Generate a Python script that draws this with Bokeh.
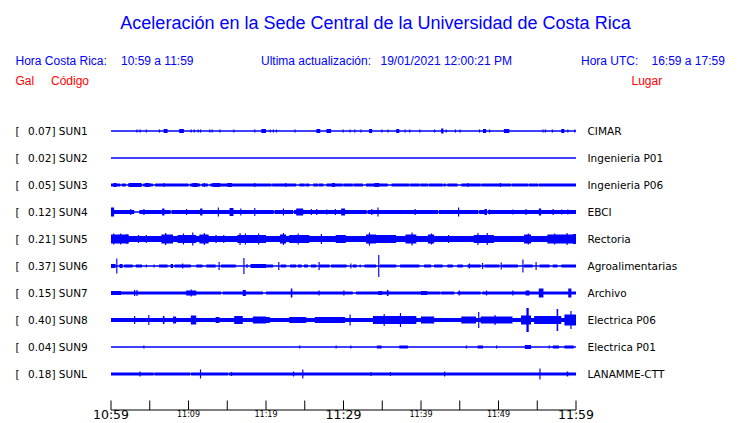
from bokeh.plotting import figure
from bokeh.models import Range1d, ColumnDataSource
from bokeh.core.properties import value
from bokeh.embed import file_html
from bokeh.resources import INLINE

# ---------------- data ----------------
title_text = "Aceleración en la Sede Central de la Universidad de Costa Rica"
hora_cr_label = "Hora Costa Rica:"
hora_cr_value = "10:59 a 11:59"
update_label = "Ultima actualización:"
update_value = "19/01/2021 12:00:21 PM"
hora_utc_label = "Hora UTC:"
hora_utc_value = "16:59 a 17:59"

stations = ["SUN1", "SUN2", "SUN3", "SUN4", "SUN5", "SUN6", "SUN7", "SUN8", "SUN9", "SUNL"]
peak_gal = [0.07, 0.02, 0.05, 0.12, 0.21, 0.37, 0.15, 0.40, 0.04, 0.18]
places = ["CIMAR", "Ingenieria P01", "Ingenieria P06", "EBCI", "Rectoria",
          "Agroalimentarias", "Archivo", "Electrica P06", "Electrica P01", "LANAMME-CTT"]

# background noise half-amplitude of each trace (px-scale envelope)
base_env = [0.5, 0.5, 1.5, 2.0, 3.0, 0.5, 1.5, 2.0, 0.5, 1.5]

# quiet intervals (minutes after 10:59) where the noise band thins to a line
quiet_SUN3 = [(1.2, 1.4), (1.9, 2.2), (4.0, 4.15), (5.4, 5.7), (10.0, 10.2), (11.5, 11.7),
              (12.5, 12.8), (20.7, 20.8), (23.9, 24.3), (25.0, 25.1), (25.6, 26.1), (26.7, 26.8),
              (27.4, 27.8), (29.9, 30.0), (31.2, 31.3), (32.5, 32.9), (35.7, 36.2), (38.5, 38.6),
              (39.8, 39.9), (40.9, 41.0), (42.8, 42.9), (43.2, 43.4), (44.7, 45.2), (47.7, 47.8),
              (51.6, 51.7), (53.8, 53.9), (55.1, 55.2)]
quiet_SUN4 = [(3.0, 3.65), (7.7, 7.8), (21.0, 21.1), (23.5, 23.6), (33.0, 33.1), (42.2, 42.3),
              (47.4, 47.5), (48.5, 48.6)]
quiet_SUN7 = [(0.5, 0.6), (14.2, 14.4), (19.6, 20.0), (31.2, 31.6), (42.5, 42.6), (44.3, 44.7),
              (47.7, 47.9)]
quiet_SUNL = [(5.5, 5.6), (10.2, 10.3), (15.1, 15.2)]

# bursts: (start minute, end minute, half-amplitude)
events_SUN1 = [(3.3, 3.4, 1.5), (3.7, 3.8, 1.5), (4.5, 4.6, 1.5), (6.2, 6.3, 1.5), (6.8, 7.3, 2.0),
               (8.8, 9.4, 2.0), (10.3, 10.4, 1.5), (10.7, 10.8, 1.5), (11.2, 11.3, 1.5), (11.5, 11.6, 1.5),
               (12.7, 12.8, 1.5), (13.0, 13.1, 1.5), (14.0, 14.1, 1.5), (15.8, 15.9, 1.5), (18.5, 18.6, 1.5),
               (19.4, 20.0, 2.0), (20.5, 20.6, 1.5), (20.9, 21.0, 1.5), (21.3, 21.4, 1.5), (23.7, 23.8, 1.5),
               (26.5, 27.0, 2.0), (27.8, 28.4, 2.0), (29.9, 30.0, 1.5), (30.8, 30.9, 1.5), (31.4, 31.5, 1.5),
               (32.2, 32.3, 1.5), (33.3, 33.7, 2.0), (34.9, 35.0, 1.5), (35.7, 35.8, 1.5), (36.8, 37.2, 2.0),
               (37.9, 38.0, 1.5), (38.5, 38.6, 1.5), (39.8, 39.9, 1.5), (41.7, 41.8, 1.5), (42.6, 42.9, 2.5),
               (43.2, 43.3, 1.5), (44.4, 44.5, 1.5), (45.0, 45.1, 1.5), (47.5, 47.6, 1.5), (48.0, 48.4, 2.0),
               (48.8, 48.9, 1.5), (50.7, 51.4, 2.0), (55.7, 55.8, 1.5), (56.0, 56.1, 1.5), (56.9, 57.0, 1.5),
               (58.1, 58.5, 2.0), (58.9, 59.0, 1.5), (59.8, 59.9, 1.5)]
events_SUN2 = []
events_SUN3 = [(0.3, 0.7, 2.0), (2.3, 3.9, 2.0), (4.4, 5.0, 2.0), (6.8, 6.9, 2.0), (10.5, 11.2, 2.0),
               (12.0, 12.1, 2.0), (13.1, 14.1, 2.0), (15.0, 15.6, 2.0), (18.5, 18.6, 2.0), (22.5, 22.6, 2.0),
               (28.5, 28.9, 2.0), (34.0, 34.6, 2.0), (46.0, 46.1, 2.0), (50.2, 50.3, 2.0)]
events_SUN4 = [(0.0, 0.4, 4.5), (2.5, 2.6, 3.0), (4.2, 4.3, 3.0), (6.6, 6.9, 3.5), (9.7, 9.8, 3.0),
               (11.5, 11.8, 3.5), (13.8, 13.9, 4.5), (15.3, 15.8, 4.0), (16.7, 16.8, 3.5), (18.5, 18.6, 4.0),
               (22.2, 22.3, 3.5), (23.9, 24.8, 3.5), (25.8, 25.9, 3.0), (26.5, 26.6, 3.0), (27.8, 27.9, 2.5),
               (28.9, 29.0, 3.0), (29.7, 30.2, 3.5), (33.6, 33.7, 3.0), (34.4, 34.5, 4.5), (39.2, 39.3, 3.0),
               (44.8, 44.9, 4.5), (48.2, 48.5, 3.0), (48.8, 48.9, 2.5), (51.8, 51.9, 2.5), (53.5, 53.6, 3.0),
               (55.2, 55.5, 3.5), (57.0, 57.1, 3.0), (58.1, 58.2, 2.5), (58.9, 59.0, 2.5)]
events_SUN5 = [(0.0, 2.3, 4.5), (0.3, 0.4, 5.5), (1.2, 1.3, 5.5), (2.0, 2.1, 5.0), (3.5, 3.6, 4.0),
               (4.5, 4.6, 4.0), (6.5, 8.0, 4.5), (7.0, 7.1, 6.0), (8.6, 11.0, 4.0), (9.3, 9.4, 5.5),
               (10.5, 10.6, 6.5), (11.4, 12.6, 4.5), (12.0, 12.1, 6.0), (13.5, 13.6, 4.0), (14.5, 14.6, 4.0),
               (16.3, 20.0, 4.0), (16.6, 16.7, 6.0), (17.3, 17.4, 5.5), (19.0, 19.1, 5.5), (21.8, 22.6, 4.5),
               (22.2, 22.3, 6.0), (23.0, 25.6, 4.0), (24.1, 24.2, 5.5), (27.1, 27.2, 5.0), (29.0, 30.3, 4.0),
               (32.9, 34.2, 4.5), (33.3, 33.4, 6.5), (34.2, 36.8, 4.0), (38.0, 39.4, 4.5), (38.8, 38.9, 6.5),
               (40.9, 41.7, 4.5), (41.3, 41.4, 5.5), (43.5, 43.6, 4.0), (46.8, 49.4, 4.0), (47.3, 47.4, 6.0),
               (48.5, 48.6, 6.0), (53.3, 54.2, 4.5), (53.8, 53.9, 5.5), (56.3, 60.0, 4.5), (57.2, 57.3, 5.5),
               (58.8, 58.9, 6.0), (59.6, 60.0, 5.0)]
events_SUN6 = [(0.0, 0.6, 2.0), (0.7, 0.8, 7.5), (1.1, 1.5, 2.0), (1.7, 2.8, 1.5), (3.2, 4.0, 1.5),
               (4.5, 4.6, 1.5), (5.5, 5.6, 1.5), (6.2, 7.3, 1.5), (7.7, 8.0, 2.0), (8.2, 10.3, 1.5),
               (9.2, 9.3, 2.5), (11.0, 11.8, 1.5), (12.3, 13.5, 1.5), (13.9, 14.0, 4.0), (14.2, 16.1, 1.5),
               (17.1, 17.2, 8.0), (17.5, 17.6, 2.0), (18.0, 20.0, 2.0), (20.0, 20.9, 1.5), (21.6, 21.7, 4.0),
               (21.9, 22.6, 1.5), (23.1, 23.9, 1.5), (24.1, 24.6, 1.5), (24.9, 25.4, 1.5), (25.8, 26.5, 1.5),
               (26.8, 26.9, 4.0), (26.9, 28.2, 1.5), (28.4, 30.4, 1.5), (30.9, 31.0, 2.5), (31.2, 31.7, 1.5),
               (32.1, 32.2, 1.5), (32.7, 34.2, 1.5), (34.5, 34.6, 11.0), (34.7, 36.8, 1.5), (37.3, 39.8, 1.5),
               (40.4, 41.3, 1.5), (41.7, 42.8, 1.5), (43.4, 44.1, 1.5), (44.7, 45.4, 1.5), (46.0, 47.7, 1.5),
               (46.2, 46.3, 2.5), (47.9, 48.0, 3.0), (48.2, 50.1, 1.5), (50.3, 50.4, 3.5), (50.5, 52.5, 1.5),
               (53.1, 53.2, 6.5), (53.3, 54.4, 1.5), (54.8, 54.9, 4.0), (55.3, 56.6, 1.5), (57.0, 57.6, 1.5),
               (58.1, 60.0, 1.5)]
events_SUN7 = [(0.0, 1.3, 2.0), (3.0, 3.1, 3.0), (3.3, 3.4, 3.0), (9.7, 11.0, 2.5), (10.3, 10.4, 3.5),
               (17.0, 17.4, 3.0), (23.2, 23.4, 4.5), (26.8, 26.9, 2.5), (30.0, 30.1, 2.5), (34.5, 35.0, 2.0),
               (35.6, 35.8, 3.0), (40.0, 40.8, 2.0), (44.9, 45.0, 2.5), (48.4, 48.5, 2.5), (51.8, 51.9, 2.5),
               (53.5, 54.0, 2.5), (55.2, 55.8, 4.5), (59.0, 59.4, 4.5)]
events_SUN8 = [(3.0, 3.1, 4.0), (4.8, 4.95, 5.0), (6.7, 6.9, 4.0), (8.0, 8.4, 3.5), (10.3, 11.0, 4.5),
               (13.5, 14.0, 3.0), (15.9, 17.0, 4.0), (18.3, 20.0, 3.5), (19.6, 20.5, 3.0), (23.0, 25.2, 3.0),
               (26.3, 30.2, 3.0), (30.8, 30.9, 5.5), (33.8, 39.4, 4.0), (35.2, 35.3, 6.0), (37.3, 37.4, 7.0),
               (40.0, 41.7, 3.5), (45.2, 47.1, 3.5), (47.4, 47.5, 8.0), (47.7, 51.8, 3.5), (49.5, 49.6, 5.0),
               (52.9, 54.2, 4.5), (53.6, 53.9, 12.0), (54.6, 58.1, 4.0), (57.5, 57.7, 11.0), (58.5, 60.0, 5.5),
               (59.3, 59.4, 9.0)]
events_SUN9 = [(4.2, 4.3, 1.5), (24.3, 24.4, 1.5), (29.0, 29.1, 1.5), (30.9, 31.0, 1.5), (34.3, 34.9, 1.5),
               (37.2, 38.3, 1.5), (45.8, 45.9, 1.5), (47.3, 48.0, 1.5), (49.7, 49.8, 1.5), (53.4, 54.2, 2.0),
               (56.5, 56.6, 1.5), (57.0, 57.8, 1.5), (58.5, 59.7, 1.5)]
events_SUNL = [(3.7, 3.8, 2.5), (11.5, 11.6, 4.5), (15.5, 15.6, 2.0), (23.5, 23.6, 2.5), (24.7, 24.8, 4.5),
               (33.5, 33.6, 2.0), (36.0, 36.1, 2.0), (43.0, 43.1, 2.5), (55.3, 55.4, 5.5), (58.8, 59.0, 2.5)]

events_all = [events_SUN1, events_SUN2, events_SUN3, events_SUN4, events_SUN5,
              events_SUN6, events_SUN7, events_SUN8, events_SUN9, events_SUNL]
quiet_all = [[], [], quiet_SUN3, quiet_SUN4, [], [], quiet_SUN7, [], [], quiet_SUNL]

tick_minutes = [0, 5, 10, 15, 20, 25, 30, 35, 40, 45, 50, 55, 60]
tick_labels = ["10:59", "", "11:09", "", "11:19", "", "11:29", "", "11:39", "", "11:49", "", "11:59"]
big_tick_labels = ["10:59", "11:29", "11:59"]

# ---------------- layout helpers ----------------
W, H = 738, 422
PX_PER_MIN = 7.75       # horizontal scale
X0 = 110.5              # canvas x of 10:59
TRACE0 = 130.5          # canvas y of first trace
SPACING = 27            # px between traces
T_END = 60
BASE_FIX = 0.37         # baseline correction (em) for the svg text renderer


def sx(px):       # canvas x -> data minutes
    return (px - X0) / PX_PER_MIN


def sy(py):       # canvas y -> data trace units
    return (py - TRACE0) / SPACING


def ty(baseline_px, size):   # text baseline in canvas px -> data units
    return sy(baseline_px - BASE_FIX * size)


p = figure(width=W, height=H,
           x_range=Range1d(-X0 / PX_PER_MIN, (W - X0) / PX_PER_MIN),
           y_range=Range1d((H - TRACE0) / SPACING, -TRACE0 / SPACING),
           x_axis_type=None, y_axis_type=None, toolbar_location=None,
           output_backend="svg", min_border=0, outline_line_color=None,
           background_fill_color="white", border_fill_color="white")

BLUE = "#0000ff"
RED = "#ff0000"
HDR = value("Liberation Sans")
LBL = value("DejaVu Sans")

# ---------------- traces ----------------
ql, qr, qt, qb = [], [], [], []
MINW = 0.15
for i, (env, evs, quiet) in enumerate(zip(base_env, events_all, quiet_all)):
    if env > 0.5:
        start = 0.0
        for a, b in sorted(quiet):
            if a > start:
                ql.append(start); qr.append(a)
                qt.append(i - env / SPACING); qb.append(i + env / SPACING)
            start = b
        if start < T_END:
            ql.append(start); qr.append(T_END)
            qt.append(i - env / SPACING); qb.append(i + env / SPACING)
    for a, b, h in evs:
        if b - a < MINW:
            c = (a + b) / 2
            a, b = c - MINW / 2, c + MINW / 2
        ql.append(a); qr.append(b)
        qt.append(i - h / SPACING); qb.append(i + h / SPACING)

p.quad(left="l", right="r", top="t", bottom="b",
       source=ColumnDataSource(dict(l=ql, r=qr, t=qt, b=qb)),
       fill_color=BLUE, line_color=None)

n = len(stations)
p.segment(x0=[0] * n, x1=[T_END] * n, y0=list(range(n)), y1=list(range(n)),
          line_color=BLUE, line_width=1.3)

# ---------------- station labels ----------------
LS = 10.5
lab_y = [ty(TRACE0 + i * SPACING + 4.3, LS) for i in range(n)]
p.text(x=[sx(15)] * n, y=lab_y, text=["["] * n,
       text_font=LBL, text_font_size=value(f"{LS}px"), text_color="black",
       text_baseline="alphabetic", text_align="left")
p.text(x=[sx(27.5)] * n, y=lab_y,
       text=[f"{g:.2f}] {s}" for g, s in zip(peak_gal, stations)],
       text_font=LBL, text_font_size=value(f"{LS}px"), text_color="black",
       text_baseline="alphabetic", text_align="left")
p.text(x=[sx(587)] * n, y=lab_y, text=places,
       text_font=LBL, text_font_size=value(f"{LS}px"), text_color="black",
       text_baseline="alphabetic", text_align="left")

# ---------------- header ----------------
p.text(x=[sx(375)], y=[ty(29.3, 18)], text=[title_text], text_font=HDR,
       text_font_size=value("18px"), text_color=BLUE,
       text_baseline="alphabetic", text_align="center")
p.text(x=[sx(15), sx(120.5), sx(260.5), sx(380), sx(580.5), sx(651)],
       y=[ty(65, 12)] * 6,
       text=[hora_cr_label, hora_cr_value, update_label, update_value, hora_utc_label, hora_utc_value],
       text_font=HDR, text_font_size=value("12px"), text_color=BLUE,
       text_baseline="alphabetic", text_align="left")
p.text(x=[sx(15), sx(50.5), sx(631)], y=[ty(85, 12)] * 3, text=["Gal", "Código", "Lugar"],
       text_font=HDR, text_font_size=value("12px"), text_color=RED,
       text_baseline="alphabetic", text_align="left")

# ---------------- time axis ----------------
AX_Y = 409.5
p.segment(x0=[tick_minutes[0]], x1=[tick_minutes[-1]], y0=[sy(AX_Y)], y1=[sy(AX_Y)],
          line_color="black", line_width=1)
p.segment(x0=tick_minutes, x1=tick_minutes, y0=[sy(AX_Y)] * len(tick_minutes),
          y1=[sy(AX_Y - 9.5)] * len(tick_minutes), line_color="black", line_width=1)
small_x = [m for m, t in zip(tick_minutes, tick_labels) if t and t not in big_tick_labels]
small_t = [t for t in tick_labels if t and t not in big_tick_labels]
big_x = [m for m, t in zip(tick_minutes, tick_labels) if t in big_tick_labels]
big_t = [t for t in tick_labels if t in big_tick_labels]
p.text(x=small_x, y=[ty(417.2, 8)] * len(small_x), text=small_t, text_font=value("DejaVu Sans"),
       text_font_size=value("8px"), text_color="black",
       text_baseline="alphabetic", text_align="center")
p.text(x=big_x, y=[ty(418, 12)] * len(big_x), text=big_t, text_font=LBL,
       text_font_size=value("12.5px"), text_color="black",
       text_baseline="alphabetic", text_align="center")

open("out.html", "w").write(file_html(p, INLINE))
